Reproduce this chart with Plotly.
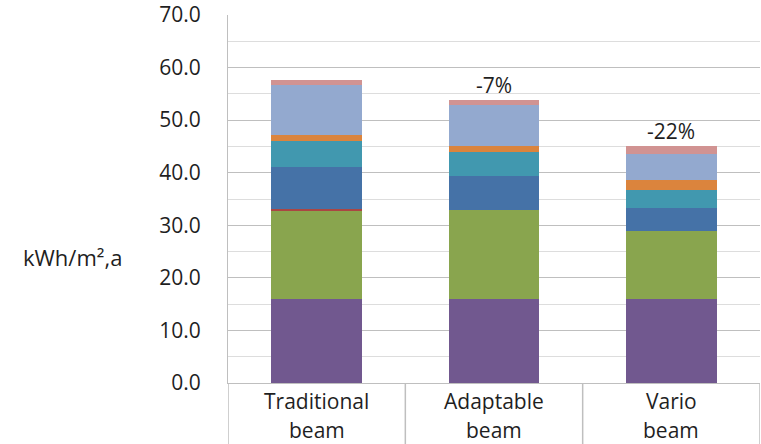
import plotly.graph_objects as go

# Categories and stacked components (kWh/m²,a), bottom to top
categories = ["Traditional beam", "Adaptable beam", "Vario beam"]
purple_vals = [15.9, 15.9, 15.9]
green_vals = [17.0, 17.0, 13.1]
red_vals = [0.15, 0.0, 0.0]
blue_vals = [7.95, 6.5, 4.3]
teal_vals = [5.0, 4.6, 3.5]
orange_vals = [1.1, 1.1, 1.8]
lightblue_vals = [9.5, 7.8, 5.0]
pink_vals = [1.0, 0.9, 1.5]
change_labels = ["", "-7%", "-22%"]

series = [
    (purple_vals, "#71588F"),
    (green_vals, "#89A54E"),
    (red_vals, "#AA4643"),
    (blue_vals, "#4572A7"),
    (teal_vals, "#4198AF"),
    (orange_vals, "#DB843D"),
    (lightblue_vals, "#93A9CF"),
    (pink_vals, "#D19392"),
]

FONT = "Open Sans"
TEXT = "#1F1F1F"
FS = 21
AXIS_GREY = "#BFBFBF"

fig = go.Figure()
xs = list(range(len(categories)))
for vals, color in series:
    fig.add_trace(go.Bar(x=xs, y=vals, marker=dict(color=color, line=dict(width=0)),
                         showlegend=False, hoverinfo="skip"))

totals = [sum(v[i] for v, _ in series) for i in range(len(categories))]

W, H = 761, 444
ML, MR, MT, MB = 228, 1, 15, 61
plot_w = W - ML - MR
plot_h = H - MT - MB

fig.update_layout(
    width=W, height=H,
    margin=dict(l=ML, r=MR, t=MT, b=MB),
    barmode="stack", bargap=0.49,
    plot_bgcolor="white", paper_bgcolor="white",
    font=dict(family=FONT, size=FS, color=TEXT),
    xaxis=dict(range=[-0.5, len(categories) - 0.5], showticklabels=False,
               showgrid=False, zeroline=False, showline=True,
               linecolor=AXIS_GREY, linewidth=1, fixedrange=True),
    yaxis=dict(range=[0, 70], dtick=10, tickformat=".1f",
               showgrid=True, gridcolor=AXIS_GREY, gridwidth=1,
               minor=dict(dtick=5, showgrid=True, gridcolor="#DDDDDD", gridwidth=1),
               zeroline=False, showline=True, linecolor=AXIS_GREY, linewidth=1,
               ticks="", ticklabelstandoff=22,
               tickfont=dict(family=FONT, size=FS, color=TEXT)),
)

# Category box separators below the plot area
below = -MB / plot_h
for b in [i - 0.5 for i in range(len(categories) + 1)]:
    fig.add_shape(type="line", xref="x", yref="paper", x0=b, x1=b, y0=below, y1=0,
                  line=dict(color=AXIS_GREY, width=1.5), layer="above")

# Category labels, split into two lines
for i, cat in enumerate(categories):
    first, second = cat.rsplit(" ", 1)
    for text, shift in [(first, -18), (second, -47)]:
        fig.add_annotation(x=i, y=0, xref="x", yref="paper", text=text,
                           showarrow=False, yanchor="middle", yshift=shift,
                           font=dict(family=FONT, size=FS, color=TEXT))

# Relative change labels above bars
for i, lab in enumerate(change_labels):
    if lab:
        fig.add_annotation(x=i, y=totals[i], xref="x", yref="y", text=lab,
                           showarrow=False, yanchor="bottom", yshift=-1,
                           font=dict(family=FONT, size=FS, color=TEXT))

# Unit label, left of the value axis
fig.add_annotation(x=(72 - ML) / plot_w, y=(H - 257 - MB) / plot_h,
                   xref="paper", yref="paper", text="kWh/m²,a", showarrow=False,
                   xanchor="center", yanchor="middle",
                   font=dict(family=FONT, size=FS + 1, color=TEXT))

fig.write_html("out.html")
